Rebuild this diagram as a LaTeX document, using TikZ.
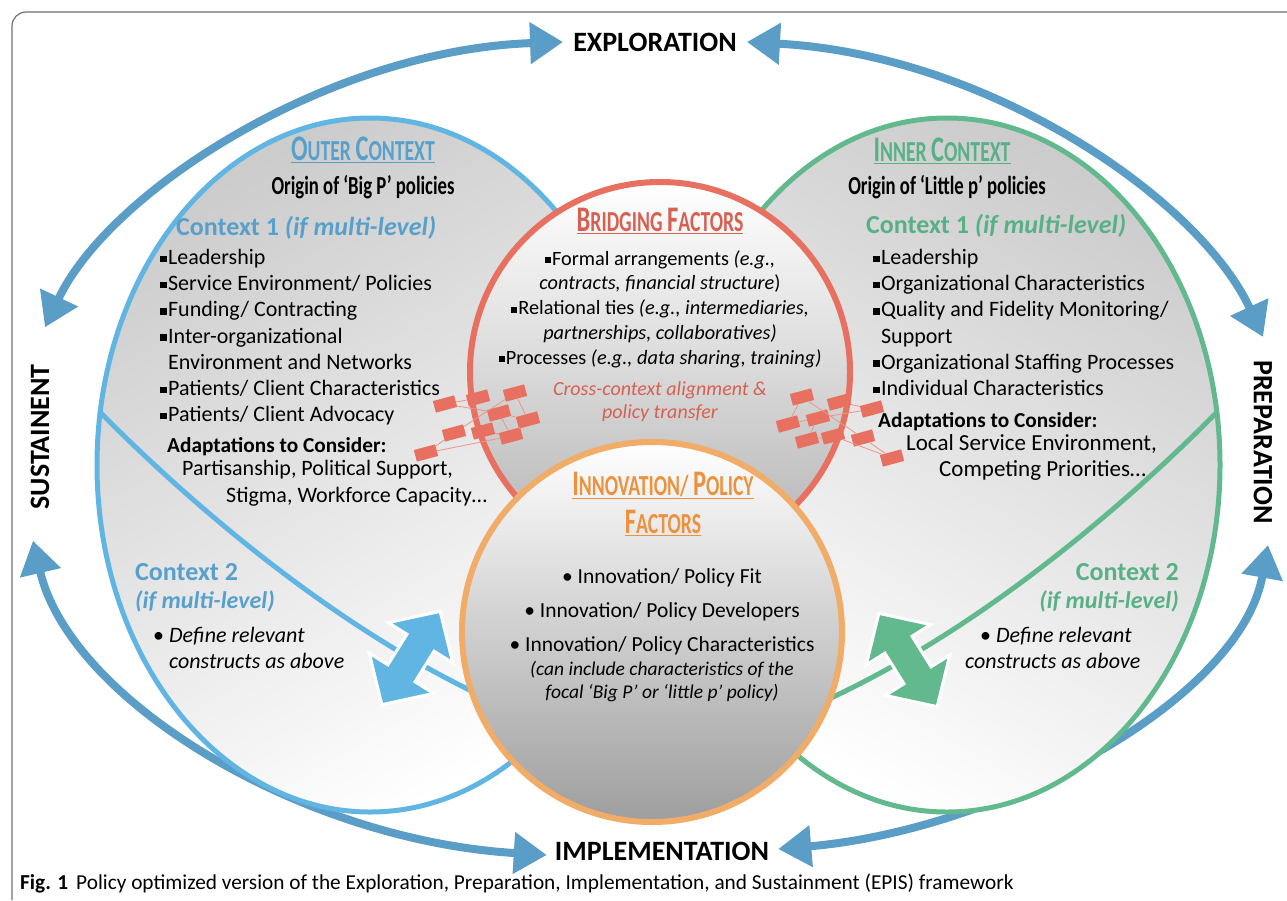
\documentclass[tikz,border=0pt]{standalone}
\usepackage{fontspec}
\setmainfont{Carlito}
\usepackage{graphicx}
\usetikzlibrary{arrows.meta,positioning}

\definecolor{epis}{RGB}{90,157,198}
\definecolor{outerblue}{RGB}{96,181,226}
\definecolor{outertext}{RGB}{88,160,204}
\definecolor{innergreen}{RGB}{98,185,142}
\definecolor{innertext}{RGB}{88,177,134}
\definecolor{bridgered}{RGB}{232,112,97}
\definecolor{bridgetext}{RGB}{214,96,82}
\definecolor{innovorange}{RGB}{241,172,104}
\definecolor{innovtext}{RGB}{236,146,62}
\definecolor{framegray}{RGB}{110,110,110}

\newcommand{\sqb}{\rule[0.1em]{0.3em}{0.3em}\hspace{0.06em}}
\newcommand{\capsc}[2]{{\fontsize{36}{36}\selectfont #1}#2}
\newcommand{\condensed}[1]{\scalebox{0.68}[1]{#1}}

\begin{document}
\begin{tikzpicture}[x=1pt,y=-1pt,
    phase/.style={font=\fontsize{28}{28}\selectfont\bfseries, inner sep=0pt},
    episarrow/.style={epis, line width=8pt, {Triangle[length=33pt,width=40pt]}-{Triangle[length=33pt,width=40pt]}},
    body/.style={font=\fontsize{22}{26.2}\selectfont, inner sep=0pt, align=left},
    boldbody/.style={font=\fontsize{21.3}{26}\selectfont\bfseries, inner sep=0pt},
    head/.style={font=\fontsize{29}{34}\selectfont\bfseries, inner sep=0pt, align=center},
    origin/.style={font=\fontsize{26}{26}\selectfont\bfseries, inner sep=0pt},
    ctx/.style={font=\fontsize{26}{28}\selectfont\bfseries, inner sep=0pt},
    ctxlevel/.style={font=\fontsize{24}{26}\selectfont\bfseries\itshape, inner sep=0pt},
    link/.style={bridgered!75, line width=0.8pt},
    netbox/.style={fill=bridgered, minimum width=22pt, minimum height=12pt, inner sep=0pt, rotate=15},
    dblarrow/.style={draw=white, line width=3pt},
  ]
  \useasboundingbox (0,0) rectangle (1287,900);
  \draw[framegray, line width=1.2pt, rounded corners=14pt] (12,900) -- (12,12) -- (1287,12);

  % phases
  \node[phase] (expl) at (655,42) {EXPLORATION};
  \node[phase] (impl) at (662,851) {IMPLEMENTATION};
  \node[phase, rotate=90] (sust) at (40,437) {SUSTAINENT};
  \node[phase, rotate=-90] (prep) at (1263,442) {PREPARATION};

  \coordinate (exW) at ([xshift=-10pt]expl.west);
  \coordinate (exE) at ([xshift=10pt]expl.east);
  \coordinate (imW) at ([xshift=-8pt,yshift=-4pt]impl.west);
  \coordinate (imE) at ([xshift=9pt,yshift=2pt]impl.east);
  \coordinate (suT) at ([xshift=5pt,yshift=37pt]sust.east);
  \coordinate (suB) at ([xshift=-7pt,yshift=-31pt]sust.west);
  \coordinate (prT) at ([yshift=23pt]prep.west);
  \coordinate (prB) at ([xshift=5pt,yshift=-21pt]prep.east);

  \draw[episarrow] (suT) .. controls (110,190) and (330,50) .. (exW);
  \draw[episarrow] (exE) .. controls (990,55) and (1200,200) .. (prT);
  \draw[episarrow] (prB) .. controls (1240,700) and (1000,830) .. (imE);
  \draw[episarrow] (suB) .. controls (70,700) and (300,840) .. (imW);

  % outer and inner context
  \draw[outerblue, line width=5pt, top color=black!20, bottom color=white, shading angle=30]
    (370,465) ellipse [x radius=273, y radius=347];
  \draw[innergreen, line width=5pt, top color=black!20, bottom color=white, shading angle=-30]
    (947,465) ellipse [x radius=273, y radius=347];
  \begin{scope}
    \clip (370,465) ellipse [x radius=273, y radius=347];
    \draw[outerblue, line width=5pt] (92,404) .. controls (215,530) and (420,700) .. (620,745);
  \end{scope}
  \begin{scope}
    \clip (947,465) ellipse [x radius=273, y radius=347];
    \draw[innergreen, line width=5pt] (1225,404) .. controls (1102,530) and (897,700) .. (697,745);
  \end{scope}
  \begin{scope}[shift={(411,658)}, rotate=58]
    \filldraw[dblarrow, fill=outerblue] (55,0) -- (18,38) -- (18,16) -- (-18,16) -- (-18,38) -- (-55,0)
      -- (-18,-38) -- (-18,-16) -- (18,-16) -- (18,-38) -- cycle;
  \end{scope}
  \begin{scope}[shift={(908,660)}, rotate=122]
    \filldraw[dblarrow, fill=innergreen] (55,0) -- (18,38) -- (18,16) -- (-18,16) -- (-18,38) -- (-55,0)
      -- (-18,-38) -- (-18,-16) -- (18,-16) -- (18,-38) -- cycle;
  \end{scope}

  % bridging and innovation circles
  \draw[bridgered, line width=6pt, top color=white, bottom color=black!30] (660,372) circle [radius=190];
  \draw[innovorange, line width=6pt, top color=white, bottom color=black!38] (652,632) circle [radius=190];

  % links across the bridging circle
  \node[netbox] (l1) at (445,404) {};
  \node[netbox] (l2) at (478,398) {};
  \node[netbox] (l3) at (515,393) {};
  \node[netbox] (l4) at (499,413) {};
  \node[netbox] (l5) at (528,420) {};
  \node[netbox] (l6) at (454,433) {};
  \node[netbox] (l7) at (483,431) {};
  \node[netbox] (l8) at (511,436) {};
  \node[netbox] (l9) at (426,453) {};
  \draw[link] (l1) -- (l2) (l1) -- (l4) (l3) -- (l5) (l4) -- (l5) (l4) -- (l8)
    (l7) -- (l8) (l5) -- (l8) (l6) -- (l3) (l9) -- (l6) (l9) -- (l8);
  \node[netbox] (r1) at (802,397) {};
  \node[netbox] (r2) at (839,402) {};
  \node[netbox] (r3) at (872,409) {};
  \node[netbox] (r4) at (818,418) {};
  \node[netbox] (r5) at (788,424) {};
  \node[netbox] (r6) at (807,440) {};
  \node[netbox] (r7) at (833,436) {};
  \node[netbox] (r8) at (863,438) {};
  \node[netbox] (r9) at (892,458) {};
  \draw[link] (r1) -- (r5) (r1) -- (r8) (r2) -- (r3) (r4) -- (r5) (r4) -- (r3)
    (r4) -- (r6) (r6) -- (r7) (r7) -- (r9) (r8) -- (r9);

  % outer context text
  \node[head, text=outertext] (outerhd) at (363,150) {\condensed{\underline{\capsc{O}{UTER} \capsc{C}{ONTEXT}}}};
  \node[origin] (outerorig) at (363,187) {\scalebox{0.72}[1]{Origin of ‘Big P’ policies}};
  \node[ctx, text=outertext, anchor=west] (outerc1) at (176,228) {Context 1 \textit{(if multi-level)}};
  \node[body, anchor=north west] (outerlist) at (160,249) {\sqb Leadership\\ \sqb Service Environment/ Policies\\
    \sqb Funding/ Contracting\\ \sqb Inter-organizational\\ \phantom{\sqb}Environment and Networks\\
    \sqb Patients/ Client Characteristics\\ \sqb Patients/ Client Advocacy};
  \node[boldbody, anchor=west] (outeradapt) at (167,447) {Adaptations to Consider:};
  \node[body, anchor=north west, font=\fontsize{22}{27}\selectfont] (outeradaptlist) at (182,460)
    {Partisanship, Political Support,\\ \hspace*{44pt}Stigma, Workforce Capacity…};
  \node[ctx, text=outertext, anchor=west] (outerc2) at (135,572) {Context 2};
  \node[ctxlevel, text=outertext, anchor=west] (outerc2b) at (135,601) {(if multi-level)};
  \node[body, anchor=north west] (outerc2list) at (153,627) {• \textit{Define relevant}\\ \phantom{• }\textit{constructs as above}};

  % inner context text
  \node[head, text=innertext] (innerhd) at (942,151) {\condensed{\underline{\capsc{I}{NNER} \capsc{C}{ONTEXT}}}};
  \node[origin] (innerorig) at (947,187) {\scalebox{0.72}[1]{Origin of ‘Little p’ policies}};
  \node[ctx, text=innertext, anchor=west] (innerc1) at (866,226) {Context 1 \textit{(if multi-level)}};
  \node[body, anchor=north west] (innerlist) at (873,249) {\sqb Leadership\\ \sqb Organizational Characteristics\\
    \sqb Quality and Fidelity Monitoring/\\ \phantom{\sqb}Support\\ \sqb Organizational Staffing Processes\\
    \sqb Individual Characteristics};
  \node[boldbody, anchor=west] (inneradapt) at (878,422) {Adaptations to Consider:};
  \node[body, anchor=north west, font=\fontsize{23}{26}\selectfont] (inneradaptlist) at (906,434)
    {Local Service Environment,\\ \hspace*{33pt}Competing Priorities…};
  \node[ctx, text=innertext, anchor=east] (innerc2) at (1179,572) {Context 2};
  \node[ctxlevel, text=innertext, anchor=east] (innerc2b) at (1179,601) {(if multi-level)};
  \node[body, anchor=north west] (innerc2list) at (965,627) {\hspace*{15pt}• \textit{Define relevant}\\ \textit{constructs as above}};

  % bridging factors text
  \node[head, text=bridgetext] (bridgehd) at (660,221) {\condensed{\underline{\capsc{B}{RIDGING} \capsc{F}{ACTORS}}}};
  \node[body, align=center, anchor=north, font=\fontsize{20.3}{24.8}\selectfont] (bridgelist) at (660,250)
    {\sqb Formal arrangements \textit{(e.g.,}\\ \textit{contracts, financial structure})\\
     \sqb Relational ties \textit{(e.g., intermediaries,}\\ \textit{partnerships, collaboratives)}\\
     \sqb Processes \textit{(e.g., data sharing, training)}};
  \node[body, align=center, anchor=north, text=bridgetext, font=\fontsize{20}{23.5}\selectfont\itshape] (bridgenote) at (660,381)
    {Cross-context alignment \&\\ policy transfer};

  % innovation factors text
  \node[head, text=innovtext] (innovhd) at (663,504)
    {\condensed{\underline{\capsc{I}{NNOVATION}/ \capsc{P}{OLICY}}}\\[4pt] \condensed{\underline{\capsc{F}{ACTORS}}}};
  \node[body, align=center, anchor=north, font=\fontsize{21.5}{34}\selectfont] (innovlist) at (662,568)
    {• Innovation/ Policy Fit\\ • Innovation/ Policy Developers\\ • Innovation/ Policy Characteristics};
  \node[body, align=center, anchor=north, font=\fontsize{19.5}{23.5}\selectfont\itshape] (innovnote) at (662,661)
    {(can include characteristics of the\\ focal ‘Big P’ or ‘little p’ policy)};

  % caption
  \node[anchor=west, inner sep=0pt, font=\fontsize{21.3}{21.3}\selectfont] (caption) at (20,883)
    {\textbf{Fig. 1}\hspace{8pt}Policy optimized version of the Exploration, Preparation, Implementation, and Sustainment (EPIS) framework};
\end{tikzpicture}
\end{document}
